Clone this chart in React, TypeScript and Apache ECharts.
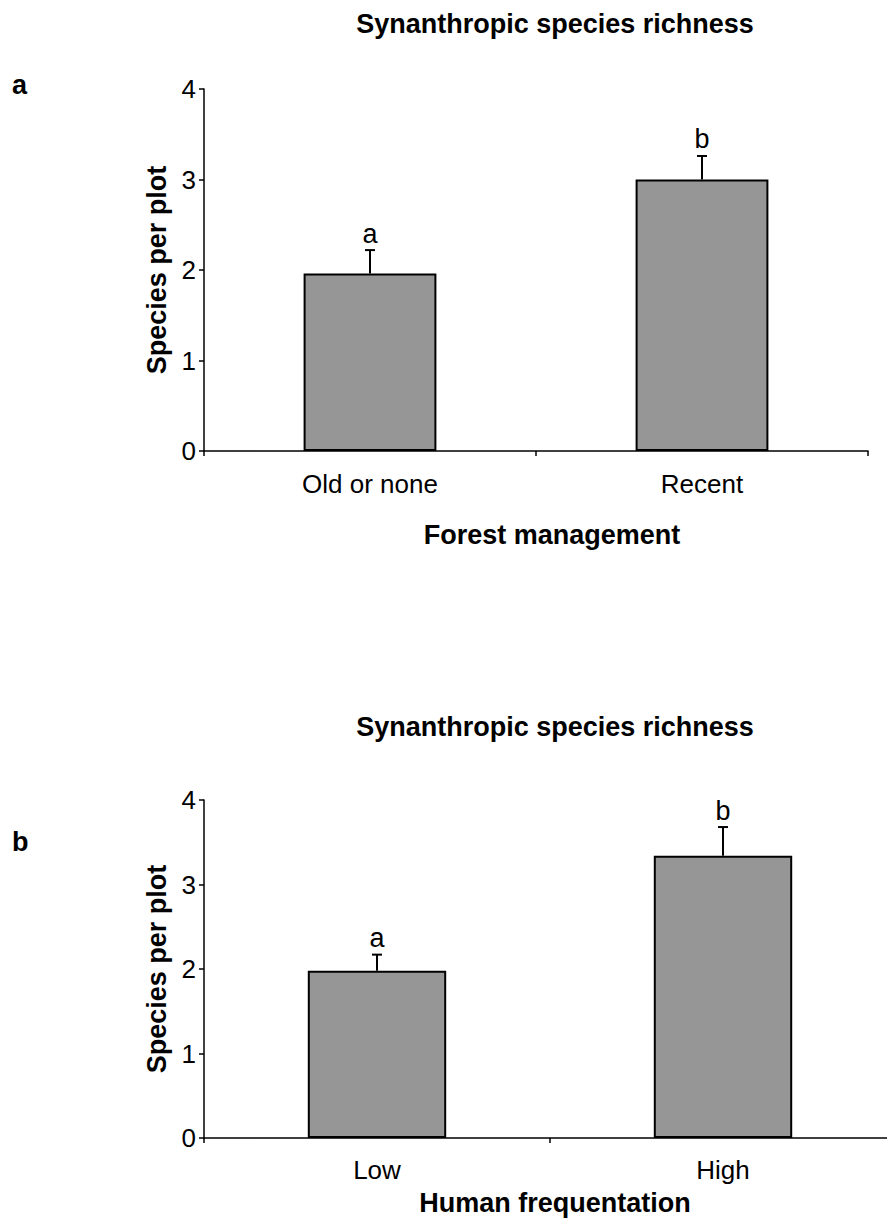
import React, { useEffect, useRef } from "react";
import * as echarts from "echarts";

// Panel a: forest management
const forestCategories = ["Old or none", "Recent"];
const forestMeans = [1.96, 3.0];
const forestErrors = [0.26, 0.26];
const forestLetters = ["a", "b"];

// Panel b: human frequentation
const humanCategories = ["Low", "High"];
const humanMeans = [1.98, 3.34];
const humanErrors = [0.19, 0.34];
const humanLetters = ["a", "b"];

const yTicks = [0, 1, 2, 3, 4];

const FONT = "'Liberation Sans', Arial, Helvetica, sans-serif";
const BAR_FILL = "#969696";

// The canvas is a little wider than the visible frame so that the lower
// panel's category axis can run past the right edge.
const CANVAS_W = 910;
const FRAME_W = 887;
const FRAME_H = 1220;

function errorBarRenderer(letters: string[]) {
  return (params: any, api: any) => {
    const idx = api.value(0);
    const mean = api.value(1);
    const err = api.value(2);
    const base = api.coord([idx, mean]);
    const top = api.coord([idx, mean + err]);
    return {
      type: "group",
      children: [
        {
          type: "line",
          shape: { x1: base[0], y1: base[1], x2: top[0], y2: top[1] },
          style: { stroke: "#000", lineWidth: 2 },
        },
        {
          type: "line",
          shape: { x1: top[0] - 5, y1: top[1], x2: top[0] + 5, y2: top[1] },
          style: { stroke: "#000", lineWidth: 2 },
        },
        {
          type: "text",
          x: top[0],
          y: top[1] - 3,
          style: {
            text: letters[params.dataIndex],
            textAlign: "center",
            textVerticalAlign: "bottom",
            fontSize: 27,
            fontFamily: FONT,
            fill: "#000",
          },
        },
      ],
    };
  };
}

function categoryAxis(gridIndex: number, data: string[], labelMargin: number) {
  return {
    type: "category",
    gridIndex,
    data,
    boundaryGap: true,
    axisLine: { show: true, lineStyle: { color: "#000", width: 1.5 } },
    axisTick: { show: true, length: 5, lineStyle: { color: "#000", width: 1.5 } },
    axisLabel: { color: "#000", fontSize: 26, fontFamily: FONT, margin: labelMargin },
    splitLine: { show: false },
  };
}

function valueAxis(gridIndex: number) {
  return {
    type: "value",
    gridIndex,
    min: yTicks[0],
    max: yTicks[yTicks.length - 1],
    interval: 1,
    name: "Species per plot",
    nameLocation: "middle",
    nameGap: 28,
    nameTextStyle: { color: "#000", fontSize: 27, fontWeight: "bold", fontFamily: FONT },
    axisLine: { show: true, lineStyle: { color: "#000", width: 1.5 } },
    axisTick: { show: true, length: 5, lineStyle: { color: "#000", width: 1.5 } },
    axisLabel: { color: "#000", fontSize: 26, fontFamily: FONT, margin: 8 },
    splitLine: { show: false },
  };
}

function boldText(text: string, x: number, y: number, align = "center") {
  return {
    type: "text",
    x,
    y,
    style: {
      text,
      textAlign: align,
      textVerticalAlign: "middle",
      fontSize: 27,
      fontWeight: "bold",
      fontFamily: FONT,
      fill: "#000",
    },
  };
}

export default function App() {
  const ref = useRef<HTMLDivElement>(null);

  useEffect(() => {
    if (!ref.current) return;
    const chart = echarts.init(ref.current, undefined, { renderer: "svg" });
    chart.setOption({
      animation: false,
      backgroundColor: "#fff",
      grid: [
        { left: 204, top: 89, width: 664, height: 362 },
        { left: 204, top: 800, width: 692, height: 338 },
      ],
      xAxis: [
        categoryAxis(0, forestCategories, 20),
        categoryAxis(1, humanCategories, 19),
      ],
      yAxis: [valueAxis(0), valueAxis(1)],
      series: [
        {
          type: "bar",
          xAxisIndex: 0,
          yAxisIndex: 0,
          data: forestMeans,
          barWidth: "40%",
          itemStyle: { color: BAR_FILL, borderColor: "#000", borderWidth: 2 },
        },
        {
          type: "custom",
          xAxisIndex: 0,
          yAxisIndex: 0,
          data: forestMeans.map((m, i) => [i, m, forestErrors[i]]),
          encode: { x: 0, y: 1 },
          renderItem: errorBarRenderer(forestLetters),
          z: 3,
        },
        {
          type: "bar",
          xAxisIndex: 1,
          yAxisIndex: 1,
          data: humanMeans,
          barWidth: "40%",
          itemStyle: { color: BAR_FILL, borderColor: "#000", borderWidth: 2 },
        },
        {
          type: "custom",
          xAxisIndex: 1,
          yAxisIndex: 1,
          data: humanMeans.map((m, i) => [i, m, humanErrors[i]]),
          encode: { x: 0, y: 1 },
          renderItem: errorBarRenderer(humanLetters),
          z: 3,
        },
      ],
      graphic: [
        boldText("Synanthropic species richness", 555, 24),
        boldText("a", 12, 85, "left"),
        boldText("Forest management", 552, 535),
        boldText("Synanthropic species richness", 555, 727),
        boldText("b", 12, 842, "left"),
        boldText("Human frequentation", 555, 1203),
      ],
    });
    return () => chart.dispose();
  }, []);

  return (
    <div
      style={{
        position: "absolute",
        left: 0,
        top: 0,
        width: FRAME_W,
        height: FRAME_H,
        overflow: "hidden",
        background: "#fff",
      }}
    >
      <div ref={ref} style={{ width: CANVAS_W, height: FRAME_H }} />
    </div>
  );
}
